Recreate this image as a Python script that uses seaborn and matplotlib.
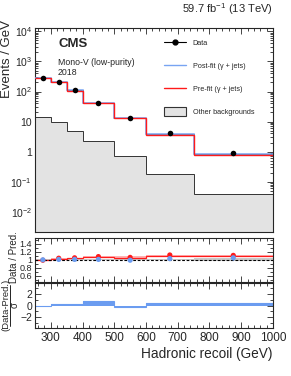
import numpy as np
import pandas as pd
import matplotlib
matplotlib.use("Agg")
import matplotlib.pyplot as plt
from matplotlib.ticker import MultipleLocator, LogLocator, NullFormatter, FixedLocator
from matplotlib.lines import Line2D
from matplotlib.patches import Patch
import seaborn as sns

# ---- data ----
bin_edges = [250, 300, 350, 400, 500, 600, 750, 1000]
data_vals = [280, 210, 112, 43, 13.5, 4.0, 0.88]
data_err = [6, 5, 3, 1.3, 0.6, 0.25, 0.08]
postfit_vals = [280, 208, 111, 42.6, 13.6, 3.9, 0.84]
prefit_vals = [283, 202, 107, 40, 12.7, 3.6, 0.79]
other_bkg = [14.7, 10, 4.9, 2.3, 0.72, 0.176, 0.038]

ratio_pre = [0.99, 1.04, 1.05, 1.08, 1.06, 1.12, 1.11]
ratio_pre_err = [0.02, 0.02, 0.02, 0.02, 0.02, 0.03, 0.05]
ratio_post = [1.0, 1.01, 1.01, 1.01, 0.99, 1.03, 1.05]
ratio_post_err = [0.02, 0.02, 0.02, 0.02, 0.02, 0.03, 0.05]
pre_over_post = [0.985, 1.03, 1.04, 1.07, 1.055, 1.10, 1.10]
pre_band = [0.015, 0.015, 0.015, 0.02, 0.03, 0.02, 0.015]
post_band = [0.01, 0.01, 0.01, 0.01, 0.01, 0.015, 0.04]
pulls = [0.0, 0.3, 0.3, 0.7, -0.3, 0.5, 0.4]

edges = np.array(bin_edges, dtype=float)
centers = 0.5 * (edges[:-1] + edges[1:])

sns.set_style("ticks")
plt.rcParams['font.family'] = ['Liberation Sans', 'DejaVu Sans']
plt.rcParams['mathtext.fontset'] = 'custom'
plt.rcParams['mathtext.rm'] = 'Liberation Sans'
plt.rcParams['mathtext.it'] = 'Liberation Sans:italic'

BLUE = "#78a4f2"
BLUEPT = "#6b9cf0"
RED = "#ff1a1a"

FW, FH = 291.0, 376.0
fig = plt.figure(figsize=(2.91, 3.76), dpi=100)
L, W = 0.120, 0.818
ax1 = fig.add_axes([L, 0.383, W, 0.5425])
ax2 = fig.add_axes([L, 0.251, W, 0.116])
ax3 = fig.add_axes([L, 0.128, W, 0.119])

def style_axis(ax, major_len=4.5, minor_len=2.3):
    ax.tick_params(which="both", direction="in", top=True, right=True, width=0.6, labelsize=7, pad=2)
    ax.tick_params(which="major", length=major_len)
    ax.tick_params(which="minor", length=minor_len)
    for s in ax.spines.values():
        s.set_linewidth(0.8)
    ax.set_xlim(250, 1000)
    ax.xaxis.set_major_locator(MultipleLocator(100))
    ax.xaxis.set_minor_locator(MultipleLocator(20))

# ---- main panel ----
ax1.set_yscale("log")
ax1.stairs(other_bkg, edges, fill=True, color="#e3e3e3", baseline=1e-5, zorder=1)
ax1.stairs(other_bkg, edges, color="#333333", lw=0.7, baseline=None, zorder=2)
ax1.stairs(postfit_vals, edges, color="#333333", lw=0.6, baseline=None, zorder=2)
ax1.stairs(postfit_vals, edges, color=BLUE, lw=1.1, baseline=None, zorder=3)
ax1.stairs(prefit_vals, edges, color=RED, lw=1.0, baseline=None, zorder=3)
df = pd.DataFrame({"x": centers, "y": data_vals})
ax1.errorbar(centers, data_vals, yerr=data_err, fmt="none", ecolor="black", elinewidth=0.8, zorder=4)
sns.scatterplot(data=df, x="x", y="y", ax=ax1, color="black", s=16, edgecolor="black", linewidth=0, zorder=5, legend=False)
ax1.set_ylim(2.1e-3, 1.3e4)
style_axis(ax1)
ax1.yaxis.set_major_locator(FixedLocator([1e-2, 1e-1, 1, 10, 1e2, 1e3, 1e4]))
ax1.yaxis.set_minor_locator(LogLocator(base=10, subs=np.arange(2, 10), numticks=20))
ax1.yaxis.set_minor_formatter(NullFormatter())
ax1.set_yticklabels(["$10^{-2}$", "$10^{-1}$", "1", "10", "$10^{2}$", "$10^{3}$", "$10^{4}$"])
ax1.tick_params(axis="y", labelsize=7.5)
ax1.set_xticklabels([])
ax1.set_xlabel("")
ax1.set_ylabel("Events / GeV", fontsize=9.5, loc="top")
ax1.yaxis.set_label_coords(-0.092, 1.04)

handles = [
    Line2D([0], [0], color="black", marker="o", markersize=3.5, lw=0.8),
    Line2D([0], [0], color=BLUE, lw=1.0),
    Line2D([0], [0], color=RED, lw=1.0),
    Patch(facecolor="#e3e3e3", edgecolor="#333333", linewidth=0.8),
]
labels = ["Data", "Post-fit (\u03b3 + jets)", "Pre-fit (\u03b3 + jets)", "Other backgrounds"]
leg = ax1.legend(handles, labels, loc="upper left", bbox_to_anchor=(0.53, 0.965), frameon=False,
                 fontsize=5.2, handlelength=3.0, handleheight=1.6, labelspacing=1.9, handletextpad=1.0,
                 borderaxespad=0)

ax1.text(0.097, 0.922, "CMS", transform=ax1.transAxes, fontsize=9.5, fontweight="bold", va="center", ha="left")
ax1.text(0.097, 0.833, "Mono-V (low-purity)", transform=ax1.transAxes, fontsize=6.3, va="center", ha="left")
ax1.text(0.097, 0.784, "2018", transform=ax1.transAxes, fontsize=6.3, va="center", ha="left")
fig.text(L + W, 0.955, "59.7 fb$^{-1}$ (13 TeV)", ha="right", va="bottom", fontsize=8)

# ---- ratio panel ----
ax2.stairs(np.array(pre_over_post) + np.array(pre_band), edges,
           baseline=np.array(pre_over_post) - np.array(pre_band), fill=True, color="#ffb3b3", zorder=1)
ax2.stairs(1 + np.array(post_band), edges, baseline=1 - np.array(post_band), fill=True, color="#c8c8c8", zorder=1)
ax2.stairs(pre_over_post, edges, color=RED, lw=0.9, baseline=None, zorder=2)
ax2.axhline(1.0, color="black", ls=(0, (2.5, 1.5)), lw=0.8, zorder=3)
ax2.errorbar(centers, ratio_pre, yerr=ratio_pre_err, fmt="none", ecolor=RED, elinewidth=0.8, zorder=4)
ax2.errorbar(centers, ratio_post, yerr=ratio_post_err, fmt="none", ecolor=BLUEPT, elinewidth=0.8, zorder=4)
rdf = pd.DataFrame({"x": np.concatenate([centers, centers]),
                    "y": np.concatenate([ratio_pre, ratio_post]),
                    "fit": ["pre"] * len(centers) + ["post"] * len(centers)})
sns.scatterplot(data=rdf, x="x", y="y", hue="fit", palette={"pre": RED, "post": BLUEPT}, ax=ax2,
                s=14, linewidth=0, legend=False, zorder=5)
ax2.set_ylim(0.46, 1.54)
style_axis(ax2, 4, 2)
ax2.yaxis.set_major_locator(FixedLocator([0.6, 0.8, 1.0, 1.2, 1.4]))
ax2.set_yticklabels(["0.6", "0.8", "1", "1.2", "1.4"])
ax2.yaxis.set_minor_locator(MultipleLocator(0.1))
ax2.tick_params(axis="y", labelsize=6.5)
ax2.set_xticklabels([])
ax2.set_xlabel("")
ax2.set_ylabel("Data / Pred.", fontsize=7)
ax2.yaxis.set_label_coords(-0.065, 0.56)

# ---- pull panel ----
ax3.stairs(pulls, edges, baseline=0, fill=True, color=BLUEPT, zorder=2)
ax3.stairs(pulls, edges, baseline=None, color=BLUEPT, lw=0.8, zorder=2)
ax3.set_ylim(-3.8, 3.8)
style_axis(ax3, 4, 2)
ax3.yaxis.set_major_locator(FixedLocator([-2, 0, 2]))
ax3.yaxis.set_minor_locator(MultipleLocator(1))
ax3.tick_params(axis="y", labelsize=7.5)
ax3.tick_params(axis="x", labelsize=8.5, pad=3)
ax3.set_xlabel("Hadronic recoil (GeV)", fontsize=9.8, loc="right", labelpad=2)

# pull axis label drawn as a rotated fraction
ycen = 1 - 305 / FH
fig.text(6 / FW, ycen, "(Data-Pred.)", rotation=90, ha="center", va="center", fontsize=6.8)
fig.add_artist(Line2D([10.5 / FW, 10.5 / FW], [1 - 285 / FH, 1 - 326 / FH], color="black", lw=0.6,
                      transform=fig.transFigure))
fig.text(14.5 / FW, ycen, "\u03c3", rotation=90, ha="center", va="center", fontsize=7)

fig.savefig("out.png", dpi=100)
